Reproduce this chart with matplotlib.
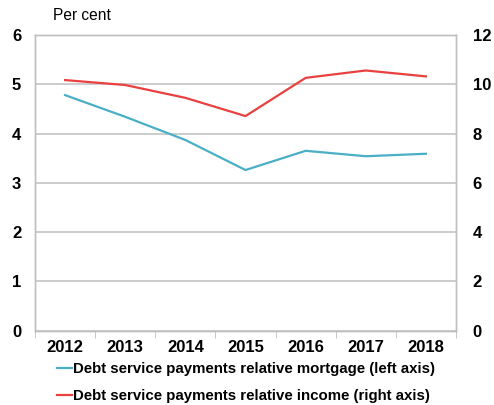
import matplotlib.pyplot as plt
from matplotlib.ticker import MultipleLocator, FixedLocator

years = ["2012", "2013", "2014", "2015", "2016", "2017", "2018"]
mortgage = [4.78, 4.34, 3.87, 3.26, 3.65, 3.54, 3.59]
income = [10.17, 9.97, 9.45, 8.71, 10.26, 10.56, 10.32]

teal = "#4AAFC6"
red = "#E8413F"
grey = "#BFBFBF"

plt.rcParams["font.family"] = ["Liberation Sans", "DejaVu Sans"]
plt.rcParams["font.weight"] = "bold"

fig = plt.figure(figsize=(4.94, 4.05), dpi=100)
ax = fig.add_axes([0.0709, 0.1835, 0.8521, 0.7301])
ax2 = ax.twinx()

x = range(len(years))
l1, = ax.plot(x, mortgage, color=teal, lw=1.6)
l2, = ax2.plot(x, income, color=red, lw=1.6)

ax.set_xlim(-0.5, 6.5)
ax.set_ylim(0, 6)
ax2.set_ylim(0, 12)
ax.yaxis.set_major_locator(MultipleLocator(1))
ax2.yaxis.set_major_locator(MultipleLocator(2))
ax.set_xticks(list(x))
ax.set_xticklabels(years)
ax.xaxis.set_minor_locator(FixedLocator([i + 0.5 for i in range(-1, 7)]))
ax.tick_params(axis="x", which="major", length=0, pad=7, labelsize=12)
ax.tick_params(axis="x", which="minor", length=5, color=grey, direction="out")
ax.tick_params(axis="y", length=0, pad=10, labelsize=12)
ax2.tick_params(axis="y", length=0, pad=12, labelsize=12)

ax.grid(axis="y", color=grey, lw=1.1)
ax.set_axisbelow(True)
for a in (ax, ax2):
    for sp in a.spines.values():
        sp.set_color(grey)
        sp.set_linewidth(1.0)

fig.text(0.107, 0.961, "Per cent", fontsize=11.2, fontweight="normal",
         va="center", ha="left")

fig.legend([l1, l2],
           ["Debt service payments relative mortgage (left axis)",
            "Debt service payments relative income (right axis)"],
           loc="upper left", bbox_to_anchor=(0.115, 0.105),
           frameon=False, borderpad=0, borderaxespad=0,
           handlelength=1.0, handletextpad=0.1, labelspacing=0.85,
           prop={"size": 10.8, "weight": "bold"})

fig.savefig("out.png", dpi=100)
